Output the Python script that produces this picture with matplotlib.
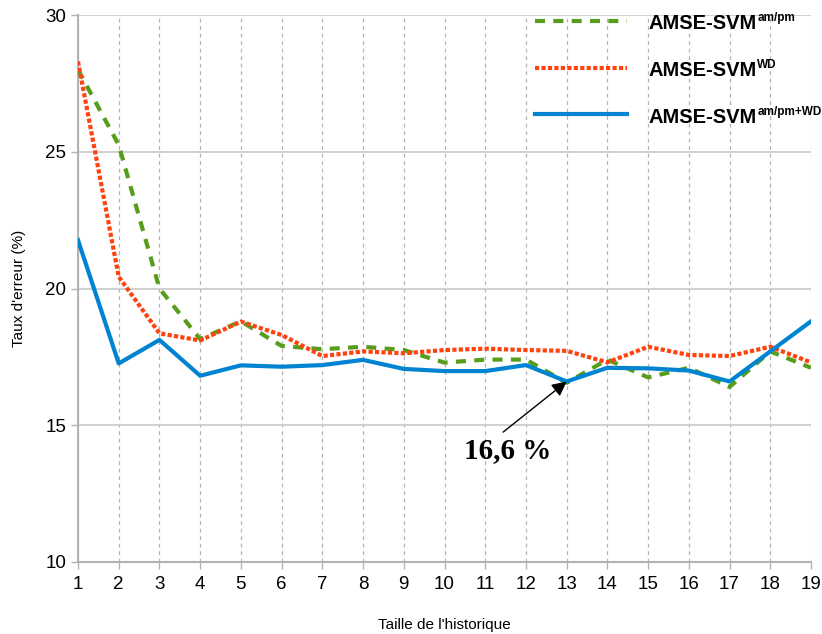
import matplotlib
matplotlib.use("Agg")
import matplotlib.pyplot as plt
from matplotlib.lines import Line2D

plt.rcParams['font.family'] = ['Liberation Sans', 'DejaVu Sans']

x = list(range(1, 20))
amse_ampm = [28.0, 25.25, 20.0, 18.15, 18.8, 17.9, 17.78, 17.87, 17.75, 17.29,
             17.4, 17.4, 16.55, 17.4, 16.75, 17.1, 16.4, 17.7, 17.1]
amse_wd = [28.3, 20.43, 18.36, 18.1, 18.79, 18.3, 17.53, 17.7, 17.63, 17.75,
           17.8, 17.75, 17.72, 17.3, 17.87, 17.57, 17.53, 17.87, 17.3]
amse_both = [21.77, 17.26, 18.12, 16.81, 17.19, 17.14, 17.2, 17.39, 17.06, 16.98,
             16.98, 17.2, 16.6, 17.1, 17.08, 17.0, 16.6, 17.7, 18.8]
label_main = 'AMSE-SVM'
label_sups = ['am/pm', 'WD', 'am/pm+WD']
annot_text = '16,6 %'
annot_x, annot_y = 13, 16.6

W, H = 822, 634
fig = plt.figure(figsize=(W / 100, H / 100), dpi=100)
ax = fig.add_axes([78/W, 1-562/H, (811-78)/W, (562-15)/H])

styles = [dict(color='#579d1c', lw=3, dashes=(2.4, 2.0), dash_capstyle='butt'),
          dict(color='#ff420e', lw=3, dashes=(1.0, 0.55), dash_capstyle='butt'),
          dict(color='#0084d1', lw=3)]
series = [amse_ampm, amse_wd, amse_both]
for ys, st, z in zip(series, styles, [3, 3, 4]):
    ax.plot(x, ys, zorder=z, **st)

ax.set_xlim(1, 19)
ax.set_ylim(10, 30)
ax.set_xticks(x)
ax.set_yticks([10, 15, 20, 25, 30])
ax.tick_params(axis='both', labelsize=13.5, color='#b3b3b3', length=5, width=1)
ax.tick_params(axis='x', pad=5)
ax.grid(axis='y', color='#c8c8c8', lw=1.2, ls='-', zorder=0)
ax.grid(axis='x', color='#b3b3b3', lw=0.9, ls=(0, (3, 3)), zorder=0)
for s in ['top', 'right']:
    ax.spines[s].set_visible(False)
for s in ['left', 'bottom']:
    ax.spines[s].set_color('#b3b3b3')
    ax.spines[s].set_linewidth(1.5)

ax.set_xlabel("Taille de l'historique", fontsize=11, labelpad=18)
ax.set_ylabel("Taux d'erreur (%)", fontsize=11, labelpad=14)

ax.annotate('', xy=(annot_x, annot_y), xytext=(11.44, 14.75),
            arrowprops=dict(arrowstyle='-|>', color='black', lw=1,
                            mutation_scale=22, shrinkA=0, shrinkB=0), zorder=5)
ax.text(11.54, 14.08, annot_text, ha='center', va='center', fontsize=21,
        fontweight='bold', family=['Liberation Serif', 'DejaVu Serif'])

# legend (drawn manually to reproduce superscripts)
line_y = [21, 68, 114]
base_y = [29, 76, 123]
fig.canvas.draw()
renderer = fig.canvas.get_renderer()
for st, ly, by, sup in zip(styles, line_y, base_y, label_sups):
    fig.add_artist(Line2D([535/W, 627/W], [1-ly/H, 1-ly/H],
                          transform=fig.transFigure, **st))
    t = fig.text(648/W, 1-by/H, label_main, ha='left', va='baseline',
                 fontsize=14.5, fontweight='bold')
    bb = t.get_window_extent(renderer)
    fig.text((bb.x1 + 1)/W, 1-(by-7.5)/H, sup, ha='left', va='baseline',
             fontsize=8.5, fontweight='bold')

fig.savefig('out.png', dpi=100)
